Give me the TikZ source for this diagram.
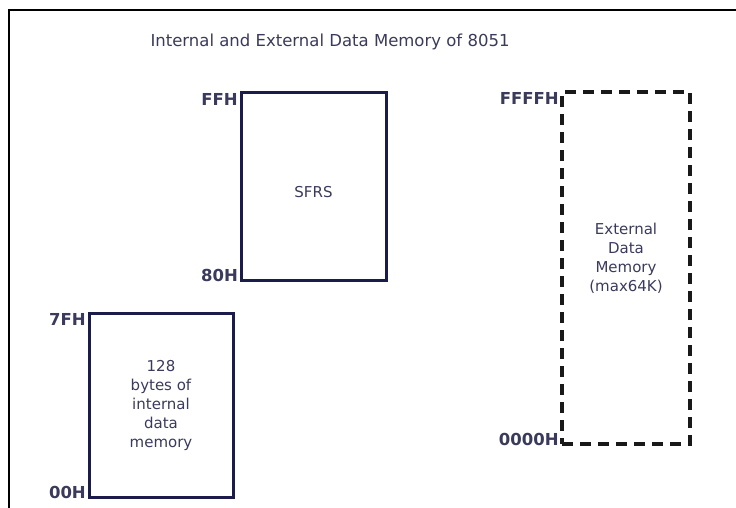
\documentclass[tikz,border=0pt]{standalone}
\usepackage{fontspec}
\setmainfont{DejaVu Sans}
\usetikzlibrary{positioning}
\definecolor{memnavy}{RGB}{28,28,76}
\definecolor{memgray}{RGB}{58,58,92}

\begin{document}
\begin{tikzpicture}[x=1pt, y=-1pt,
    membox/.style={rectangle, draw=memnavy, line width=3pt, inner sep=0pt},
    extbox/.style={rectangle, draw=black!90, line width=3.2pt, dash pattern=on 11pt off 7pt, inner sep=0pt},
    addr/.style={font=\fontsize{16.5}{16.5}\selectfont\bfseries, text=memgray, inner sep=1.5pt},
    memtext/.style={font=\fontsize{15}{19}\selectfont, text=memgray, align=center}
]
\useasboundingbox (0,0) rectangle (736,508);
\draw[line width=2.5pt] (9,508) -- (9,10) -- (736,10);

\node[font=\fontsize{16.5}{18}\selectfont, text=memgray] (title) at (330,42) {Internal and External Data Memory of 8051};

% internal memory
\node[membox, minimum width=145pt, minimum height=187pt] (sfr) at (313.5,186.5) {};
\node[memtext] (sfrtext) at ([yshift=-6pt]sfr.center) {SFRS};
\node[membox, minimum width=144pt, minimum height=184pt] (low) at (161,405) {};
\node[memtext] (lowtext) at (low.center) {128\\bytes of\\internal\\data\\memory};

% external memory
\node[extbox, minimum width=128pt, minimum height=352pt] (ext) at (626,268) {};
\node[memtext] (exttext) at ([yshift=10pt]ext.center) {External\\Data\\Memory\\(max64K)};

% addresses
\node[addr, anchor=north east] (ffh) at (sfr.north west) {FFH};
\node[addr, anchor=base east] (h80) at (sfr.south west) {80H};
\node[addr, anchor=north east] (h7f) at (low.north west) {7FH};
\node[addr, anchor=base east] (h00) at (low.south west) {00H};
\node[addr, anchor=north east] (hffff) at (ext.north west) {FFFFH};
\node[addr, anchor=base east] (h0000) at (ext.south west) {0000H};
\end{tikzpicture}
\end{document}
